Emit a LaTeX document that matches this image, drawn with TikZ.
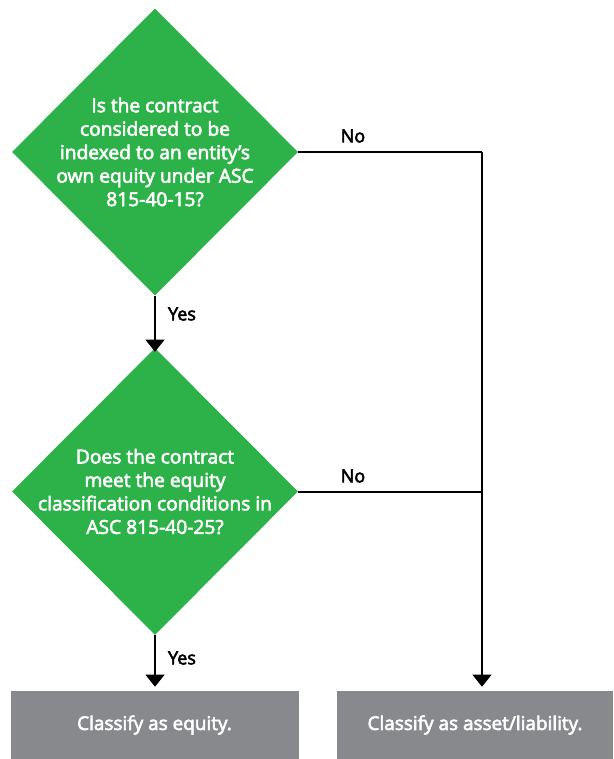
\documentclass[tikz,border=0pt]{standalone}
\usepackage{fontspec}
\setmainfont{Open Sans}
\newfontfamily\semib{Open Sans}[FakeBold=3]
\usetikzlibrary{shapes.geometric,arrows.meta}
\definecolor{dgreen}{HTML}{2DB24A}
\definecolor{dgray}{HTML}{87898C}
\tikzset{
  decision/.style={diamond, fill=dgreen, draw=none, inner sep=0pt, minimum width=214.5pt, minimum height=215.25pt},
  dtext/.style={text=white, align=center, font=\semib\fontsize{14.4}{17.6}\selectfont},
  outbox/.style={rectangle, fill=dgray, draw=none, inner sep=0pt, text=white, font=\semib\fontsize{14.2}{17}\selectfont},
  lbl/.style={font=\semib\fontsize{13.5}{16}\selectfont, text=black},
  conn/.style={line width=1.5pt, draw=black},
  arr/.style={conn, -{Triangle[width=14pt,length=9pt]}}
}
\begin{document}
\begin{tikzpicture}[x=0.75pt,y=-0.75pt]
\useasboundingbox (0,0) rectangle (613,759);
\node[decision] (d1) at (155,152) {};
\node[dtext] (t1) at (155,152) {Is the contract\\considered to be\\indexed to an entity’s\\own equity under ASC\\815-40-15?};
\node[decision] (d2) at (155,491.5) {};
\node[dtext] (t2) at (155,491.5) {Does the contract\\meet the equity\\classification conditions in\\ASC 815-40-25?};
\node[outbox, minimum width=216pt, minimum height=51pt] (b1) at (154.5,725) {Classify as equity.};
\node[outbox, minimum width=207pt, minimum height=51pt] (b2) at (475,725) {Classify as asset/liability.};
\coordinate (c1) at (482,152);
\coordinate (c2) at (482,491.5);
\draw[arr] (d1.south) -- ([yshift=-3pt]d2.north);
\draw[arr] (d2.south) -- ([yshift=3pt]b1.north -| d2.south);
\draw[conn] (d1.east) -- (c1);
\draw[conn] (d2.east) -- (c2);
\draw[arr] (c1) -- ([yshift=3pt]b2.north -| c1);
\node[lbl] (no1) at (353,136) {No};
\node[lbl] (no2) at (353,476) {No};
\node[lbl] (yes1) at (182,314) {Yes};
\node[lbl] (yes2) at (182,658) {Yes};
\end{tikzpicture}
\end{document}
